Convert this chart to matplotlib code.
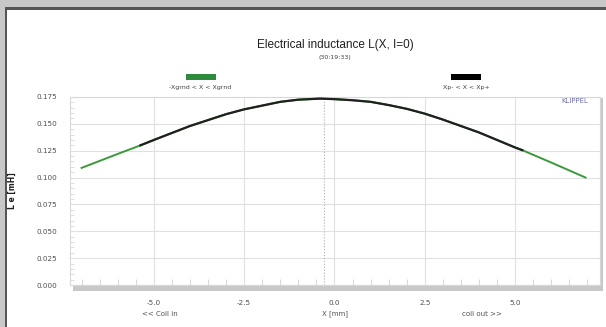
import numpy as np
import matplotlib
matplotlib.use('Agg')
import matplotlib.pyplot as plt
from matplotlib.patches import Rectangle
from matplotlib.ticker import MultipleLocator, FormatStrFormatter

# Datos
x_mm = [-7.0, -6.0, -5.37, -5.0, -4.0, -3.0, -2.5, -2.0, -1.5, -1.0, -0.4, 0.0, 0.5, 1.0, 1.5, 2.0, 2.5, 3.0, 4.0, 5.0, 5.2, 6.0, 6.95]
l_mh = [0.109, 0.122, 0.130, 0.135, 0.148, 0.159, 0.1635, 0.167, 0.1705, 0.1725, 0.1735, 0.173, 0.172, 0.1705, 0.1675, 0.164, 0.1595, 0.154, 0.142, 0.128, 0.1255, 0.114, 0.100]
xp_min, xp_max = -5.37, 5.2
x_peak = -0.28
x_ticks = [-5.0, -2.5, 0.0, 2.5, 5.0]
y_ticks = [0.000, 0.025, 0.050, 0.075, 0.100, 0.125, 0.150, 0.175]

W, H = 606, 327
fig = plt.figure(figsize=(W / 100, H / 100), dpi=100)
fig.patch.set_facecolor('#c8c8c8')

def fx(px):
    return px / W

def fy(py):
    return 1 - py / H

# panel blanco con borde oscuro
fig.patches.append(Rectangle((fx(5), 0), 1, fy(8), transform=fig.transFigure,
                             facecolor='white', edgecolor='none', zorder=-2))
fig.patches.append(Rectangle((fx(5), fy(10)), 1, 3 / H, transform=fig.transFigure,
                             facecolor='#555555', edgecolor='none', zorder=-1))
fig.patches.append(Rectangle((fx(5), 0), 2 / W, fy(8), transform=fig.transFigure,
                             facecolor='#555555', edgecolor='none', zorder=-1))

# sombra gris del area de grafico
fig.patches.append(Rectangle((fx(73), fy(291)), fx(603) - fx(73), 6 / H, transform=fig.transFigure,
                             facecolor='#c8c8c8', edgecolor='none', zorder=-1))
fig.patches.append(Rectangle((fx(600), fy(291)), 3 / W, fy(98) - fy(291), transform=fig.transFigure,
                             facecolor='#c8c8c8', edgecolor='none', zorder=-1))

ax = fig.add_axes([fx(70), fy(285), fx(600) - fx(70), fy(97) - fy(285)])
ax.set_zorder(2)
ax.set_facecolor('white')

x = np.array(x_mm)
y = np.array(l_mh)
ax.plot(x, y, color='#3a9a3a', lw=1.4, zorder=3)
mask = (x >= xp_min) & (x <= xp_max)
ax.plot(x[mask], y[mask], color='#202020', lw=1.6, zorder=4)
ax.axvline(x_peak, color='#b0b0b0', lw=0.8, ls=':', zorder=2)

ax.set_xlim(-7.32, 7.35)
ax.set_ylim(0, 0.175)
ax.set_xticks(x_ticks)
ax.set_yticks(y_ticks)
ax.xaxis.set_major_formatter(FormatStrFormatter('%.1f'))
ax.yaxis.set_major_formatter(FormatStrFormatter('%.3f'))
ax.xaxis.set_minor_locator(MultipleLocator(0.5))
ax.yaxis.set_minor_locator(MultipleLocator(0.005))
ax.grid(True, which='major', color='#e0e0e0', lw=0.8)
ax.tick_params(axis='x', which='major', length=0, labelsize=5.2, colors='#505050', pad=11)
ax.tick_params(axis='y', which='major', length=0, labelsize=5.2, colors='#505050', pad=9)
ax.tick_params(axis='x', which='minor', direction='in', length=4, color='#d0d0d0')
ax.tick_params(axis='y', which='minor', direction='in', length=3, color='#d8d8d8')
for s in ax.spines.values():
    s.set_color('#d8d8d8')
    s.set_linewidth(0.8)

ax.set_ylabel('L e [mH]', fontsize=5.5, fontweight='bold', color='#202020', labelpad=14)

# titulos y leyenda
fig.text(fx(335), fy(45), 'Electrical inductance L(X, I=0)', ha='center', va='center',
         fontsize=8.5, color='#202020', family='Liberation Sans')
fig.text(fx(335), fy(57), '(30:19:33)', ha='center', va='center', fontsize=4.5, color='#404040')
fig.patches.append(Rectangle((fx(186), fy(80)), 30 / W, 6 / H, transform=fig.transFigure,
                             facecolor='#2e8b3e', edgecolor='none', zorder=2))
fig.patches.append(Rectangle((fx(451), fy(80)), 30 / W, 6 / H, transform=fig.transFigure,
                             facecolor='black', edgecolor='none', zorder=2))
fig.text(fx(200), fy(88), '-Xgrnd < X < Xgrnd', ha='center', va='center', fontsize=4.5, color='#404040')
fig.text(fx(466), fy(88), 'Xp- < X < Xp+', ha='center', va='center', fontsize=4.5, color='#404040')
fig.text(fx(588), fy(101), 'KLIPPEL', ha='right', va='center', fontsize=5, color='#7070a8', zorder=5)

fig.text(fx(160), fy(314), '<< Coil in', ha='center', va='center', fontsize=5, color='#505050')
fig.text(fx(335), fy(314), 'X [mm]', ha='center', va='center', fontsize=5, color='#505050')
fig.text(fx(482), fy(314), 'coil out >>', ha='center', va='center', fontsize=5, color='#505050')

fig.savefig('out.png', dpi=100, facecolor=fig.get_facecolor())
